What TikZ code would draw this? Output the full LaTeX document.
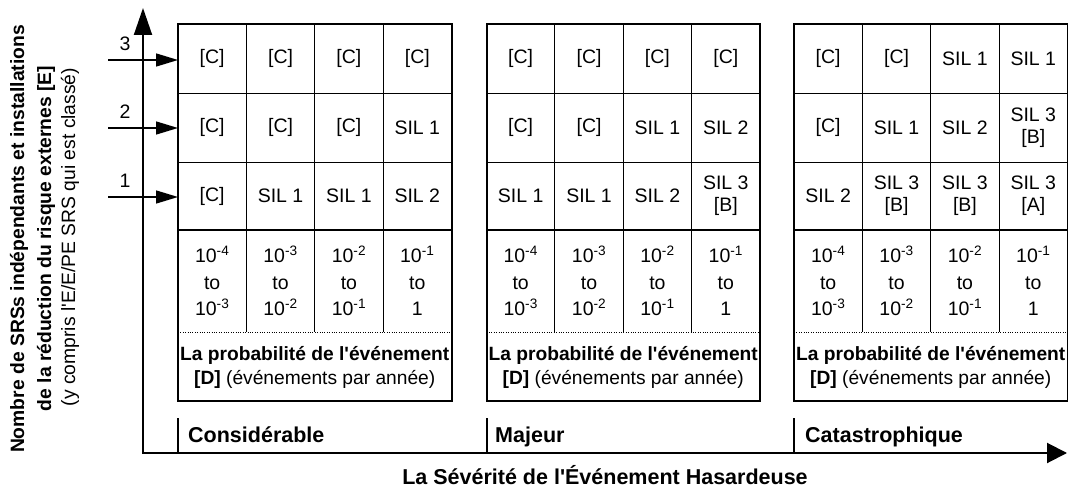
\documentclass[tikz,border=0pt]{standalone}
\usepackage{fontspec}
\newfontfamily\lsans{Liberation Sans}
\usetikzlibrary{arrows.meta}
\begin{document}
\begin{tikzpicture}[x=1pt,y=-1pt,
  cell/.style={font=\lsans\fontsize{19.5}{22}\selectfont, align=center, inner sep=0pt},
  prob/.style={font=\lsans\fontsize{19.5}{26.5}\selectfont, align=center, inner sep=0pt},
  plab/.style={font=\lsans\fontsize{19.2}{24}\selectfont, align=center, inner sep=0pt},
  sev/.style={font=\lsans\bfseries\fontsize{21.5}{24}\selectfont, anchor=base west, inner sep=0pt},
  ylab/.style={font=\lsans\fontsize{19.3}{22}\selectfont, rotate=90, inner sep=0pt},
  ylabb/.style={font=\lsans\bfseries\fontsize{19.3}{22}\selectfont, rotate=90, inner sep=0pt},
  border/.style={line width=2pt, line join=miter},
  gridline/.style={line width=0.9pt},
  dotline/.style={line width=0.8pt, dash pattern=on 1pt off 1.4pt},
  axis/.style={line width=2pt, line join=miter},
  inarrow/.style={line width=1.4pt, -{Triangle[length=22pt,width=13pt]}},
]
\useasboundingbox (0,0) rectangle (1068,489);

% tables
\foreach \tb/\x in {1/178,2/486.5,3/794}{
  \draw[gridline] (\x,93) -- +(273.5,0) (\x,162) -- +(273.5,0);
  \foreach \k in {1,2,3} \draw[gridline] ({\x+\k*68.375},24) -- ({\x+\k*68.375},332);
  \draw[dotline] (\x,332) -- +(273.5,0);
  \draw[border] (\x,230) -- +(273.5,0);
  \draw[border] (\x,24) rectangle +(273.5,377);
  \draw[axis] (\x,418) -- (\x,453);
  \foreach \lo/\hi [count=\i from 0] in {{10\textsuperscript{-4}}/{10\textsuperscript{-3}},{10\textsuperscript{-3}}/{10\textsuperscript{-2}},{10\textsuperscript{-2}}/{10\textsuperscript{-1}},{10\textsuperscript{-1}}/1}
    \node[prob] (p\tb\i) at ({\x+34.19+\i*68.375},281) {\lo\\to\\\hi};
  \node[plab] (lab\tb) at ({\x+136.75},367) {\textbf{La probabilité de l'événement}\\\textbf{[D]} (événements par année)};
}

% table 1 cells
\foreach \txt [count=\i from 0] in {{[C]},{[C]},{[C]},{[C]}}
  \node[cell] (a1r1c\i) at ({212.19+\i*68.375},58.5) {\txt};
\foreach \txt [count=\i from 0] in {{[C]},{[C]},{[C]},{SIL 1}}
  \node[cell] (a1r2c\i) at ({212.19+\i*68.375},127.5) {\txt};
\foreach \txt [count=\i from 0] in {{[C]},{SIL 1},{SIL 1},{SIL 2}}
  \node[cell] (a1r3c\i) at ({212.19+\i*68.375},196) {\txt};
% table 2 cells
\foreach \txt [count=\i from 0] in {{[C]},{[C]},{[C]},{[C]}}
  \node[cell] (a2r1c\i) at ({520.69+\i*68.375},58.5) {\txt};
\foreach \txt [count=\i from 0] in {{[C]},{[C]},{SIL 1},{SIL 2}}
  \node[cell] (a2r2c\i) at ({520.69+\i*68.375},127.5) {\txt};
\foreach \txt [count=\i from 0] in {{SIL 1},{SIL 1},{SIL 2},{SIL 3\\{[B]}}}
  \node[cell] (a2r3c\i) at ({520.69+\i*68.375},196) {\txt};
% table 3 cells
\foreach \txt [count=\i from 0] in {{[C]},{[C]},{SIL 1},{SIL 1}}
  \node[cell] (a3r1c\i) at ({828.19+\i*68.375},58.5) {\txt};
\foreach \txt [count=\i from 0] in {{[C]},{SIL 1},{SIL 2},{SIL 3\\{[B]}}}
  \node[cell] (a3r2c\i) at ({828.19+\i*68.375},127.5) {\txt};
\foreach \txt [count=\i from 0] in {{SIL 2},{SIL 3\\{[B]}},{SIL 3\\{[B]}},{SIL 3\\{[A]}}}
  \node[cell] (a3r3c\i) at ({828.19+\i*68.375},196) {\txt};

% axes
\coordinate (ytop) at (143,8);
\coordinate (O) at (143,453);
\coordinate (xend) at (1067,453);
\draw[axis, {Triangle[length=27pt,width=18pt]}-{Triangle[length=20pt,width=20pt]}] (ytop) -- (O) -- (xend);

% input arrows
\coordinate (s3) at (108,60);  \coordinate (e3) at (178,60);
\coordinate (s2) at (108,128); \coordinate (e2) at (178,128);
\coordinate (s1) at (108,197); \coordinate (e1) at (178,197);
\draw[inarrow] (s3) -- (e3);
\draw[inarrow] (s2) -- (e2);
\draw[inarrow] (s1) -- (e1);
\node[cell] (n3) at (125,44) {3};
\node[cell] (n2) at (125,112) {2};
\node[cell] (n1) at (125,181) {1};

% severity labels
\node[sev] (sv1) at (188,442) {Considérable};
\node[sev] (sv2) at (495,442) {Majeur};
\node[sev] (sv3) at (805,442) {Catastrophique};
\node[font=\lsans\bfseries\fontsize{21.5}{24}\selectfont, inner sep=0pt, anchor=base] (title) at (605,484) {La Sévérité de l'Événement Hasardeuse};

% y label
\node[ylabb] (yl1) at (19,239) {Nombre de SRSs indépendants et installations};
\node[ylabb] (yl2) at (46,238.5) {de la réduction du risque externes [E]};
\node[ylab] (yl3) at (70,237) {(y compris l'E/E/PE SRS qui est classé)};
\end{tikzpicture}
\end{document}
